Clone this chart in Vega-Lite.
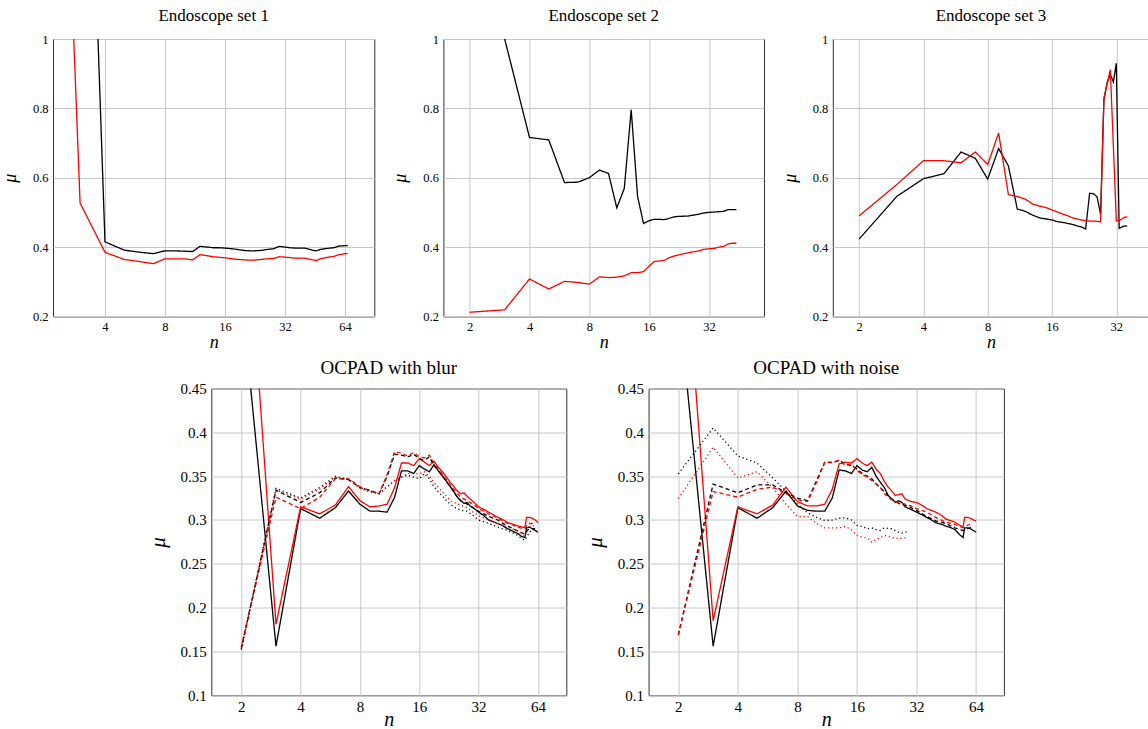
{
"$schema": "https://vega.github.io/schema/vega-lite/v6.json",
"padding": {"left": 0, "top": 6, "right": 0, "bottom": 0},
"config": {
 "font": "Liberation Serif",
 "view": {"stroke": "#333333", "strokeWidth": 1},
 "axis": {"grid": true, "gridColor": "#c8c8c8", "gridWidth": 1, "domain": false, "ticks": false, "labelColor": "#000000", "titleColor": "#000000", "labelFont": "Liberation Serif", "titleFont": "Liberation Serif", "titleFontStyle": "italic", "titleFontWeight": "normal", "labelPadding": 4},
 "axisY": {"labelPadding": 5},
 "title": {"font": "Liberation Serif", "fontWeight": "normal", "color": "#000000", "anchor": "middle", "baseline": "alphabetic"},
 "line": {"strokeWidth": 1.3, "clip": true}
},
"datasets": {
 "set1": [
  {"n":3,"mu":2.5,"method":"M1","setting":"S1"},{"n":4,"mu":0.415,"method":"M1","setting":"S1"},{"n":5,"mu":0.391,"method":"M1","setting":"S1"},{"n":6,"mu":0.385,"method":"M1","setting":"S1"},{"n":7,"mu":0.381,"method":"M1","setting":"S1"},{"n":8,"mu":0.389,"method":"M1","setting":"S1"},{"n":9,"mu":0.389,"method":"M1","setting":"S1"},{"n":10,"mu":0.388,"method":"M1","setting":"S1"},{"n":11,"mu":0.387,"method":"M1","setting":"S1"},{"n":12,"mu":0.402,"method":"M1","setting":"S1"},{"n":13,"mu":0.4,"method":"M1","setting":"S1"},{"n":14,"mu":0.398,"method":"M1","setting":"S1"},{"n":15,"mu":0.398,"method":"M1","setting":"S1"},{"n":16,"mu":0.397,"method":"M1","setting":"S1"},{"n":18,"mu":0.394,"method":"M1","setting":"S1"},{"n":20,"mu":0.39,"method":"M1","setting":"S1"},{"n":22,"mu":0.389,"method":"M1","setting":"S1"},{"n":24,"mu":0.39,"method":"M1","setting":"S1"},{"n":26,"mu":0.393,"method":"M1","setting":"S1"},{"n":28,"mu":0.395,"method":"M1","setting":"S1"},{"n":30,"mu":0.402,"method":"M1","setting":"S1"},{"n":32,"mu":0.4,"method":"M1","setting":"S1"},{"n":34,"mu":0.398,"method":"M1","setting":"S1"},{"n":36,"mu":0.397,"method":"M1","setting":"S1"},{"n":40,"mu":0.397,"method":"M1","setting":"S1"},{"n":44,"mu":0.391,"method":"M1","setting":"S1"},{"n":46,"mu":0.389,"method":"M1","setting":"S1"},{"n":48,"mu":0.393,"method":"M1","setting":"S1"},{"n":52,"mu":0.396,"method":"M1","setting":"S1"},{"n":56,"mu":0.398,"method":"M1","setting":"S1"},{"n":60,"mu":0.403,"method":"M1","setting":"S1"},{"n":64,"mu":0.404,"method":"M1","setting":"S1"},{"n":66,"mu":0.404,"method":"M1","setting":"S1"},
  {"n":2,"mu":3.15,"method":"M2","setting":"S1"},{"n":3,"mu":0.527,"method":"M2","setting":"S1"},{"n":4,"mu":0.385,"method":"M2","setting":"S1"},{"n":5,"mu":0.364,"method":"M2","setting":"S1"},{"n":6,"mu":0.358,"method":"M2","setting":"S1"},{"n":7,"mu":0.352,"method":"M2","setting":"S1"},{"n":8,"mu":0.366,"method":"M2","setting":"S1"},{"n":9,"mu":0.366,"method":"M2","setting":"S1"},{"n":10,"mu":0.366,"method":"M2","setting":"S1"},{"n":11,"mu":0.363,"method":"M2","setting":"S1"},{"n":12,"mu":0.378,"method":"M2","setting":"S1"},{"n":13,"mu":0.375,"method":"M2","setting":"S1"},{"n":14,"mu":0.372,"method":"M2","setting":"S1"},{"n":16,"mu":0.369,"method":"M2","setting":"S1"},{"n":18,"mu":0.365,"method":"M2","setting":"S1"},{"n":20,"mu":0.363,"method":"M2","setting":"S1"},{"n":22,"mu":0.362,"method":"M2","setting":"S1"},{"n":24,"mu":0.364,"method":"M2","setting":"S1"},{"n":26,"mu":0.366,"method":"M2","setting":"S1"},{"n":28,"mu":0.367,"method":"M2","setting":"S1"},{"n":30,"mu":0.372,"method":"M2","setting":"S1"},{"n":32,"mu":0.371,"method":"M2","setting":"S1"},{"n":36,"mu":0.368,"method":"M2","setting":"S1"},{"n":40,"mu":0.368,"method":"M2","setting":"S1"},{"n":44,"mu":0.363,"method":"M2","setting":"S1"},{"n":46,"mu":0.361,"method":"M2","setting":"S1"},{"n":48,"mu":0.366,"method":"M2","setting":"S1"},{"n":52,"mu":0.37,"method":"M2","setting":"S1"},{"n":56,"mu":0.373,"method":"M2","setting":"S1"},{"n":60,"mu":0.378,"method":"M2","setting":"S1"},{"n":64,"mu":0.381,"method":"M2","setting":"S1"},{"n":66,"mu":0.381,"method":"M2","setting":"S1"}
 ],
 "set2": [
  {"n":2,"mu":1.3,"method":"M1","setting":"S1"},{"n":3,"mu":1.0,"method":"M1","setting":"S1"},{"n":4,"mu":0.716,"method":"M1","setting":"S1"},{"n":5,"mu":0.709,"method":"M1","setting":"S1"},{"n":6,"mu":0.586,"method":"M1","setting":"S1"},{"n":7,"mu":0.587,"method":"M1","setting":"S1"},{"n":8,"mu":0.6,"method":"M1","setting":"S1"},{"n":9,"mu":0.622,"method":"M1","setting":"S1"},{"n":10,"mu":0.612,"method":"M1","setting":"S1"},{"n":11,"mu":0.513,"method":"M1","setting":"S1"},{"n":12,"mu":0.569,"method":"M1","setting":"S1"},{"n":13,"mu":0.796,"method":"M1","setting":"S1"},{"n":14,"mu":0.546,"method":"M1","setting":"S1"},{"n":15,"mu":0.468,"method":"M1","setting":"S1"},{"n":16,"mu":0.476,"method":"M1","setting":"S1"},{"n":17,"mu":0.48,"method":"M1","setting":"S1"},{"n":18,"mu":0.48,"method":"M1","setting":"S1"},{"n":19,"mu":0.479,"method":"M1","setting":"S1"},{"n":20,"mu":0.482,"method":"M1","setting":"S1"},{"n":21,"mu":0.486,"method":"M1","setting":"S1"},{"n":22,"mu":0.488,"method":"M1","setting":"S1"},{"n":24,"mu":0.489,"method":"M1","setting":"S1"},{"n":25,"mu":0.489,"method":"M1","setting":"S1"},{"n":26,"mu":0.491,"method":"M1","setting":"S1"},{"n":28,"mu":0.494,"method":"M1","setting":"S1"},{"n":30,"mu":0.498,"method":"M1","setting":"S1"},{"n":32,"mu":0.5,"method":"M1","setting":"S1"},{"n":34,"mu":0.501,"method":"M1","setting":"S1"},{"n":36,"mu":0.502,"method":"M1","setting":"S1"},{"n":38,"mu":0.503,"method":"M1","setting":"S1"},{"n":40,"mu":0.508,"method":"M1","setting":"S1"},{"n":42,"mu":0.508,"method":"M1","setting":"S1"},{"n":44,"mu":0.508,"method":"M1","setting":"S1"},
  {"n":2,"mu":0.212,"method":"M2","setting":"S1"},{"n":3,"mu":0.219,"method":"M2","setting":"S1"},{"n":4,"mu":0.308,"method":"M2","setting":"S1"},{"n":5,"mu":0.279,"method":"M2","setting":"S1"},{"n":6,"mu":0.301,"method":"M2","setting":"S1"},{"n":7,"mu":0.298,"method":"M2","setting":"S1"},{"n":8,"mu":0.293,"method":"M2","setting":"S1"},{"n":9,"mu":0.314,"method":"M2","setting":"S1"},{"n":10,"mu":0.312,"method":"M2","setting":"S1"},{"n":11,"mu":0.313,"method":"M2","setting":"S1"},{"n":12,"mu":0.317,"method":"M2","setting":"S1"},{"n":13,"mu":0.326,"method":"M2","setting":"S1"},{"n":14,"mu":0.326,"method":"M2","setting":"S1"},{"n":15,"mu":0.329,"method":"M2","setting":"S1"},{"n":16,"mu":0.345,"method":"M2","setting":"S1"},{"n":17,"mu":0.358,"method":"M2","setting":"S1"},{"n":18,"mu":0.36,"method":"M2","setting":"S1"},{"n":19,"mu":0.361,"method":"M2","setting":"S1"},{"n":20,"mu":0.368,"method":"M2","setting":"S1"},{"n":21,"mu":0.373,"method":"M2","setting":"S1"},{"n":22,"mu":0.376,"method":"M2","setting":"S1"},{"n":24,"mu":0.381,"method":"M2","setting":"S1"},{"n":26,"mu":0.385,"method":"M2","setting":"S1"},{"n":28,"mu":0.388,"method":"M2","setting":"S1"},{"n":30,"mu":0.393,"method":"M2","setting":"S1"},{"n":32,"mu":0.395,"method":"M2","setting":"S1"},{"n":34,"mu":0.396,"method":"M2","setting":"S1"},{"n":36,"mu":0.4,"method":"M2","setting":"S1"},{"n":38,"mu":0.402,"method":"M2","setting":"S1"},{"n":40,"mu":0.409,"method":"M2","setting":"S1"},{"n":42,"mu":0.411,"method":"M2","setting":"S1"},{"n":44,"mu":0.411,"method":"M2","setting":"S1"}
 ],
 "set3": [
  {"n":2,"mu":0.423,"method":"M1","setting":"S1"},{"n":3,"mu":0.546,"method":"M1","setting":"S1"},{"n":4,"mu":0.597,"method":"M1","setting":"S1"},{"n":5,"mu":0.612,"method":"M1","setting":"S1"},{"n":6,"mu":0.674,"method":"M1","setting":"S1"},{"n":7,"mu":0.656,"method":"M1","setting":"S1"},{"n":8,"mu":0.596,"method":"M1","setting":"S1"},{"n":9,"mu":0.684,"method":"M1","setting":"S1"},{"n":10,"mu":0.634,"method":"M1","setting":"S1"},{"n":11,"mu":0.51,"method":"M1","setting":"S1"},{"n":12,"mu":0.503,"method":"M1","setting":"S1"},{"n":13,"mu":0.492,"method":"M1","setting":"S1"},{"n":14,"mu":0.484,"method":"M1","setting":"S1"},{"n":15,"mu":0.481,"method":"M1","setting":"S1"},{"n":16,"mu":0.478,"method":"M1","setting":"S1"},{"n":17,"mu":0.473,"method":"M1","setting":"S1"},{"n":18,"mu":0.471,"method":"M1","setting":"S1"},{"n":19,"mu":0.468,"method":"M1","setting":"S1"},{"n":20,"mu":0.465,"method":"M1","setting":"S1"},{"n":21,"mu":0.461,"method":"M1","setting":"S1"},{"n":22,"mu":0.458,"method":"M1","setting":"S1"},{"n":23,"mu":0.452,"method":"M1","setting":"S1"},{"n":24,"mu":0.555,"method":"M1","setting":"S1"},{"n":25,"mu":0.554,"method":"M1","setting":"S1"},{"n":26,"mu":0.545,"method":"M1","setting":"S1"},{"n":27,"mu":0.495,"method":"M1","setting":"S1"},{"n":28,"mu":0.825,"method":"M1","setting":"S1"},{"n":29,"mu":0.875,"method":"M1","setting":"S1"},{"n":30,"mu":0.898,"method":"M1","setting":"S1"},{"n":31,"mu":0.876,"method":"M1","setting":"S1"},{"n":32,"mu":0.93,"method":"M1","setting":"S1"},{"n":33,"mu":0.454,"method":"M1","setting":"S1"},{"n":34,"mu":0.458,"method":"M1","setting":"S1"},{"n":35,"mu":0.461,"method":"M1","setting":"S1"},{"n":36,"mu":0.46,"method":"M1","setting":"S1"},
  {"n":2,"mu":0.49,"method":"M2","setting":"S1"},{"n":3,"mu":0.58,"method":"M2","setting":"S1"},{"n":4,"mu":0.649,"method":"M2","setting":"S1"},{"n":5,"mu":0.649,"method":"M2","setting":"S1"},{"n":6,"mu":0.643,"method":"M2","setting":"S1"},{"n":7,"mu":0.674,"method":"M2","setting":"S1"},{"n":8,"mu":0.638,"method":"M2","setting":"S1"},{"n":9,"mu":0.729,"method":"M2","setting":"S1"},{"n":10,"mu":0.551,"method":"M2","setting":"S1"},{"n":11,"mu":0.546,"method":"M2","setting":"S1"},{"n":12,"mu":0.538,"method":"M2","setting":"S1"},{"n":13,"mu":0.524,"method":"M2","setting":"S1"},{"n":14,"mu":0.518,"method":"M2","setting":"S1"},{"n":15,"mu":0.514,"method":"M2","setting":"S1"},{"n":16,"mu":0.507,"method":"M2","setting":"S1"},{"n":17,"mu":0.501,"method":"M2","setting":"S1"},{"n":18,"mu":0.495,"method":"M2","setting":"S1"},{"n":19,"mu":0.49,"method":"M2","setting":"S1"},{"n":20,"mu":0.484,"method":"M2","setting":"S1"},{"n":21,"mu":0.481,"method":"M2","setting":"S1"},{"n":22,"mu":0.478,"method":"M2","setting":"S1"},{"n":23,"mu":0.476,"method":"M2","setting":"S1"},{"n":24,"mu":0.475,"method":"M2","setting":"S1"},{"n":25,"mu":0.475,"method":"M2","setting":"S1"},{"n":26,"mu":0.474,"method":"M2","setting":"S1"},{"n":27,"mu":0.473,"method":"M2","setting":"S1"},{"n":28,"mu":0.83,"method":"M2","setting":"S1"},{"n":29,"mu":0.87,"method":"M2","setting":"S1"},{"n":30,"mu":0.912,"method":"M2","setting":"S1"},{"n":32,"mu":0.476,"method":"M2","setting":"S1"},{"n":33,"mu":0.477,"method":"M2","setting":"S1"},{"n":34,"mu":0.481,"method":"M2","setting":"S1"},{"n":35,"mu":0.486,"method":"M2","setting":"S1"},{"n":36,"mu":0.487,"method":"M2","setting":"S1"}
 ],
 "blur": [
  {"n":2,"mu":0.56,"method":"M1","setting":"S1"},{"n":3,"mu":0.156,"method":"M1","setting":"S1"},{"n":4,"mu":0.313,"method":"M1","setting":"S1"},{"n":5,"mu":0.302,"method":"M1","setting":"S1"},{"n":6,"mu":0.314,"method":"M1","setting":"S1"},{"n":7,"mu":0.333,"method":"M1","setting":"S1"},{"n":8,"mu":0.318,"method":"M1","setting":"S1"},{"n":9,"mu":0.31,"method":"M1","setting":"S1"},{"n":10,"mu":0.31,"method":"M1","setting":"S1"},{"n":11,"mu":0.309,"method":"M1","setting":"S1"},{"n":12,"mu":0.326,"method":"M1","setting":"S1"},{"n":13,"mu":0.356,"method":"M1","setting":"S1"},{"n":14,"mu":0.356,"method":"M1","setting":"S1"},{"n":15,"mu":0.353,"method":"M1","setting":"S1"},{"n":16,"mu":0.362,"method":"M1","setting":"S1"},{"n":17,"mu":0.358,"method":"M1","setting":"S1"},{"n":18,"mu":0.355,"method":"M1","setting":"S1"},{"n":19,"mu":0.363,"method":"M1","setting":"S1"},{"n":20,"mu":0.356,"method":"M1","setting":"S1"},{"n":21,"mu":0.35,"method":"M1","setting":"S1"},{"n":22,"mu":0.344,"method":"M1","setting":"S1"},{"n":23,"mu":0.338,"method":"M1","setting":"S1"},{"n":24,"mu":0.332,"method":"M1","setting":"S1"},{"n":25,"mu":0.326,"method":"M1","setting":"S1"},{"n":26,"mu":0.322,"method":"M1","setting":"S1"},{"n":27,"mu":0.319,"method":"M1","setting":"S1"},{"n":28,"mu":0.32,"method":"M1","setting":"S1"},{"n":29,"mu":0.316,"method":"M1","setting":"S1"},{"n":30,"mu":0.314,"method":"M1","setting":"S1"},{"n":32,"mu":0.309,"method":"M1","setting":"S1"},{"n":34,"mu":0.305,"method":"M1","setting":"S1"},{"n":36,"mu":0.3,"method":"M1","setting":"S1"},{"n":38,"mu":0.298,"method":"M1","setting":"S1"},{"n":40,"mu":0.296,"method":"M1","setting":"S1"},{"n":42,"mu":0.294,"method":"M1","setting":"S1"},{"n":45,"mu":0.29,"method":"M1","setting":"S1"},{"n":48,"mu":0.287,"method":"M1","setting":"S1"},{"n":51,"mu":0.284,"method":"M1","setting":"S1"},{"n":53,"mu":0.281,"method":"M1","setting":"S1"},{"n":55,"mu":0.28,"method":"M1","setting":"S1"},{"n":56,"mu":0.291,"method":"M1","setting":"S1"},{"n":58,"mu":0.292,"method":"M1","setting":"S1"},{"n":60,"mu":0.29,"method":"M1","setting":"S1"},{"n":62,"mu":0.288,"method":"M1","setting":"S1"},{"n":64,"mu":0.286,"method":"M1","setting":"S1"},
  {"n":2,"mu":0.74,"method":"M2","setting":"S1"},{"n":3,"mu":0.181,"method":"M2","setting":"S1"},{"n":4,"mu":0.315,"method":"M2","setting":"S1"},{"n":5,"mu":0.307,"method":"M2","setting":"S1"},{"n":6,"mu":0.317,"method":"M2","setting":"S1"},{"n":7,"mu":0.338,"method":"M2","setting":"S1"},{"n":8,"mu":0.322,"method":"M2","setting":"S1"},{"n":9,"mu":0.315,"method":"M2","setting":"S1"},{"n":10,"mu":0.316,"method":"M2","setting":"S1"},{"n":11,"mu":0.318,"method":"M2","setting":"S1"},{"n":12,"mu":0.337,"method":"M2","setting":"S1"},{"n":13,"mu":0.365,"method":"M2","setting":"S1"},{"n":14,"mu":0.365,"method":"M2","setting":"S1"},{"n":15,"mu":0.362,"method":"M2","setting":"S1"},{"n":16,"mu":0.37,"method":"M2","setting":"S1"},{"n":17,"mu":0.366,"method":"M2","setting":"S1"},{"n":18,"mu":0.362,"method":"M2","setting":"S1"},{"n":19,"mu":0.367,"method":"M2","setting":"S1"},{"n":20,"mu":0.36,"method":"M2","setting":"S1"},{"n":21,"mu":0.355,"method":"M2","setting":"S1"},{"n":22,"mu":0.349,"method":"M2","setting":"S1"},{"n":23,"mu":0.343,"method":"M2","setting":"S1"},{"n":24,"mu":0.338,"method":"M2","setting":"S1"},{"n":25,"mu":0.333,"method":"M2","setting":"S1"},{"n":26,"mu":0.33,"method":"M2","setting":"S1"},{"n":27,"mu":0.331,"method":"M2","setting":"S1"},{"n":28,"mu":0.327,"method":"M2","setting":"S1"},{"n":29,"mu":0.324,"method":"M2","setting":"S1"},{"n":30,"mu":0.321,"method":"M2","setting":"S1"},{"n":32,"mu":0.315,"method":"M2","setting":"S1"},{"n":34,"mu":0.312,"method":"M2","setting":"S1"},{"n":36,"mu":0.309,"method":"M2","setting":"S1"},{"n":38,"mu":0.306,"method":"M2","setting":"S1"},{"n":40,"mu":0.303,"method":"M2","setting":"S1"},{"n":42,"mu":0.301,"method":"M2","setting":"S1"},{"n":45,"mu":0.297,"method":"M2","setting":"S1"},{"n":48,"mu":0.295,"method":"M2","setting":"S1"},{"n":51,"mu":0.293,"method":"M2","setting":"S1"},{"n":53,"mu":0.292,"method":"M2","setting":"S1"},{"n":55,"mu":0.291,"method":"M2","setting":"S1"},{"n":56,"mu":0.303,"method":"M2","setting":"S1"},{"n":58,"mu":0.303,"method":"M2","setting":"S1"},{"n":60,"mu":0.302,"method":"M2","setting":"S1"},{"n":62,"mu":0.3,"method":"M2","setting":"S1"},{"n":64,"mu":0.297,"method":"M2","setting":"S1"},
  {"n":2,"mu":0.153,"method":"M1","setting":"S2"},{"n":3,"mu":0.334,"method":"M1","setting":"S2"},{"n":4,"mu":0.32,"method":"M1","setting":"S2"},{"n":5,"mu":0.331,"method":"M1","setting":"S2"},{"n":6,"mu":0.348,"method":"M1","setting":"S2"},{"n":7,"mu":0.346,"method":"M1","setting":"S2"},{"n":8,"mu":0.337,"method":"M1","setting":"S2"},{"n":9,"mu":0.334,"method":"M1","setting":"S2"},{"n":10,"mu":0.33,"method":"M1","setting":"S2"},{"n":11,"mu":0.35,"method":"M1","setting":"S2"},{"n":12,"mu":0.375,"method":"M1","setting":"S2"},{"n":13,"mu":0.374,"method":"M1","setting":"S2"},{"n":14,"mu":0.372,"method":"M1","setting":"S2"},{"n":15,"mu":0.375,"method":"M1","setting":"S2"},{"n":16,"mu":0.37,"method":"M1","setting":"S2"},{"n":17,"mu":0.368,"method":"M1","setting":"S2"},{"n":18,"mu":0.372,"method":"M1","setting":"S2"},{"n":19,"mu":0.362,"method":"M1","setting":"S2"},{"n":20,"mu":0.356,"method":"M1","setting":"S2"},{"n":21,"mu":0.35,"method":"M1","setting":"S2"},{"n":22,"mu":0.344,"method":"M1","setting":"S2"},{"n":23,"mu":0.338,"method":"M1","setting":"S2"},{"n":24,"mu":0.332,"method":"M1","setting":"S2"},{"n":25,"mu":0.326,"method":"M1","setting":"S2"},{"n":26,"mu":0.322,"method":"M1","setting":"S2"},{"n":28,"mu":0.318,"method":"M1","setting":"S2"},{"n":30,"mu":0.314,"method":"M1","setting":"S2"},{"n":32,"mu":0.31,"method":"M1","setting":"S2"},{"n":34,"mu":0.307,"method":"M1","setting":"S2"},{"n":36,"mu":0.304,"method":"M1","setting":"S2"},{"n":40,"mu":0.3,"method":"M1","setting":"S2"},{"n":44,"mu":0.294,"method":"M1","setting":"S2"},{"n":48,"mu":0.29,"method":"M1","setting":"S2"},{"n":52,"mu":0.286,"method":"M1","setting":"S2"},{"n":55,"mu":0.284,"method":"M1","setting":"S2"},{"n":57,"mu":0.289,"method":"M1","setting":"S2"},{"n":60,"mu":0.29,"method":"M1","setting":"S2"},{"n":62,"mu":0.29,"method":"M1","setting":"S2"},
  {"n":2,"mu":0.155,"method":"M2","setting":"S2"},{"n":3,"mu":0.326,"method":"M2","setting":"S2"},{"n":4,"mu":0.313,"method":"M2","setting":"S2"},{"n":5,"mu":0.326,"method":"M2","setting":"S2"},{"n":6,"mu":0.347,"method":"M2","setting":"S2"},{"n":7,"mu":0.347,"method":"M2","setting":"S2"},{"n":8,"mu":0.338,"method":"M2","setting":"S2"},{"n":9,"mu":0.333,"method":"M2","setting":"S2"},{"n":10,"mu":0.33,"method":"M2","setting":"S2"},{"n":11,"mu":0.352,"method":"M2","setting":"S2"},{"n":12,"mu":0.378,"method":"M2","setting":"S2"},{"n":13,"mu":0.376,"method":"M2","setting":"S2"},{"n":14,"mu":0.373,"method":"M2","setting":"S2"},{"n":15,"mu":0.377,"method":"M2","setting":"S2"},{"n":16,"mu":0.372,"method":"M2","setting":"S2"},{"n":17,"mu":0.371,"method":"M2","setting":"S2"},{"n":18,"mu":0.374,"method":"M2","setting":"S2"},{"n":19,"mu":0.365,"method":"M2","setting":"S2"},{"n":20,"mu":0.358,"method":"M2","setting":"S2"},{"n":21,"mu":0.352,"method":"M2","setting":"S2"},{"n":22,"mu":0.346,"method":"M2","setting":"S2"},{"n":23,"mu":0.34,"method":"M2","setting":"S2"},{"n":24,"mu":0.335,"method":"M2","setting":"S2"},{"n":25,"mu":0.33,"method":"M2","setting":"S2"},{"n":26,"mu":0.326,"method":"M2","setting":"S2"},{"n":28,"mu":0.322,"method":"M2","setting":"S2"},{"n":30,"mu":0.318,"method":"M2","setting":"S2"},{"n":32,"mu":0.313,"method":"M2","setting":"S2"},{"n":34,"mu":0.31,"method":"M2","setting":"S2"},{"n":36,"mu":0.307,"method":"M2","setting":"S2"},{"n":40,"mu":0.302,"method":"M2","setting":"S2"},{"n":44,"mu":0.297,"method":"M2","setting":"S2"},{"n":48,"mu":0.294,"method":"M2","setting":"S2"},{"n":52,"mu":0.291,"method":"M2","setting":"S2"},{"n":55,"mu":0.29,"method":"M2","setting":"S2"},{"n":57,"mu":0.296,"method":"M2","setting":"S2"},{"n":60,"mu":0.296,"method":"M2","setting":"S2"},{"n":62,"mu":0.294,"method":"M2","setting":"S2"},
  {"n":2,"mu":0.152,"method":"M1","setting":"S3"},{"n":3,"mu":0.336,"method":"M1","setting":"S3"},{"n":4,"mu":0.325,"method":"M1","setting":"S3"},{"n":5,"mu":0.337,"method":"M1","setting":"S3"},{"n":6,"mu":0.35,"method":"M1","setting":"S3"},{"n":7,"mu":0.346,"method":"M1","setting":"S3"},{"n":8,"mu":0.337,"method":"M1","setting":"S3"},{"n":9,"mu":0.333,"method":"M1","setting":"S3"},{"n":10,"mu":0.33,"method":"M1","setting":"S3"},{"n":11,"mu":0.338,"method":"M1","setting":"S3"},{"n":12,"mu":0.345,"method":"M1","setting":"S3"},{"n":13,"mu":0.349,"method":"M1","setting":"S3"},{"n":14,"mu":0.351,"method":"M1","setting":"S3"},{"n":15,"mu":0.349,"method":"M1","setting":"S3"},{"n":16,"mu":0.347,"method":"M1","setting":"S3"},{"n":17,"mu":0.353,"method":"M1","setting":"S3"},{"n":18,"mu":0.347,"method":"M1","setting":"S3"},{"n":19,"mu":0.338,"method":"M1","setting":"S3"},{"n":20,"mu":0.332,"method":"M1","setting":"S3"},{"n":21,"mu":0.327,"method":"M1","setting":"S3"},{"n":22,"mu":0.322,"method":"M1","setting":"S3"},{"n":23,"mu":0.318,"method":"M1","setting":"S3"},{"n":24,"mu":0.315,"method":"M1","setting":"S3"},{"n":26,"mu":0.311,"method":"M1","setting":"S3"},{"n":28,"mu":0.31,"method":"M1","setting":"S3"},{"n":30,"mu":0.305,"method":"M1","setting":"S3"},{"n":32,"mu":0.3,"method":"M1","setting":"S3"},{"n":36,"mu":0.296,"method":"M1","setting":"S3"},{"n":40,"mu":0.292,"method":"M1","setting":"S3"},{"n":45,"mu":0.288,"method":"M1","setting":"S3"},{"n":50,"mu":0.283,"method":"M1","setting":"S3"},{"n":53,"mu":0.279,"method":"M1","setting":"S3"},{"n":55,"mu":0.277,"method":"M1","setting":"S3"},{"n":57,"mu":0.283,"method":"M1","setting":"S3"},{"n":59,"mu":0.288,"method":"M1","setting":"S3"},
  {"n":2,"mu":0.155,"method":"M2","setting":"S3"},{"n":3,"mu":0.334,"method":"M2","setting":"S3"},{"n":4,"mu":0.324,"method":"M2","setting":"S3"},{"n":5,"mu":0.335,"method":"M2","setting":"S3"},{"n":6,"mu":0.349,"method":"M2","setting":"S3"},{"n":7,"mu":0.347,"method":"M2","setting":"S3"},{"n":8,"mu":0.336,"method":"M2","setting":"S3"},{"n":9,"mu":0.332,"method":"M2","setting":"S3"},{"n":10,"mu":0.33,"method":"M2","setting":"S3"},{"n":11,"mu":0.338,"method":"M2","setting":"S3"},{"n":12,"mu":0.345,"method":"M2","setting":"S3"},{"n":13,"mu":0.349,"method":"M2","setting":"S3"},{"n":14,"mu":0.353,"method":"M2","setting":"S3"},{"n":15,"mu":0.353,"method":"M2","setting":"S3"},{"n":16,"mu":0.353,"method":"M2","setting":"S3"},{"n":17,"mu":0.355,"method":"M2","setting":"S3"},{"n":18,"mu":0.35,"method":"M2","setting":"S3"},{"n":19,"mu":0.343,"method":"M2","setting":"S3"},{"n":20,"mu":0.337,"method":"M2","setting":"S3"},{"n":21,"mu":0.332,"method":"M2","setting":"S3"},{"n":22,"mu":0.327,"method":"M2","setting":"S3"},{"n":23,"mu":0.322,"method":"M2","setting":"S3"},{"n":24,"mu":0.32,"method":"M2","setting":"S3"},{"n":26,"mu":0.317,"method":"M2","setting":"S3"},{"n":28,"mu":0.314,"method":"M2","setting":"S3"},{"n":30,"mu":0.309,"method":"M2","setting":"S3"},{"n":32,"mu":0.305,"method":"M2","setting":"S3"},{"n":36,"mu":0.3,"method":"M2","setting":"S3"},{"n":40,"mu":0.296,"method":"M2","setting":"S3"},{"n":45,"mu":0.292,"method":"M2","setting":"S3"},{"n":50,"mu":0.288,"method":"M2","setting":"S3"},{"n":53,"mu":0.284,"method":"M2","setting":"S3"},{"n":55,"mu":0.282,"method":"M2","setting":"S3"},{"n":57,"mu":0.29,"method":"M2","setting":"S3"},{"n":60,"mu":0.294,"method":"M2","setting":"S3"},{"n":62,"mu":0.292,"method":"M2","setting":"S3"}
 ],
 "noise": [
  {"n":2,"mu":0.553,"method":"M1","setting":"S1"},{"n":3,"mu":0.156,"method":"M1","setting":"S1"},{"n":4,"mu":0.314,"method":"M1","setting":"S1"},{"n":5,"mu":0.302,"method":"M1","setting":"S1"},{"n":6,"mu":0.314,"method":"M1","setting":"S1"},{"n":7,"mu":0.333,"method":"M1","setting":"S1"},{"n":8,"mu":0.316,"method":"M1","setting":"S1"},{"n":9,"mu":0.311,"method":"M1","setting":"S1"},{"n":10,"mu":0.31,"method":"M1","setting":"S1"},{"n":11,"mu":0.31,"method":"M1","setting":"S1"},{"n":12,"mu":0.325,"method":"M1","setting":"S1"},{"n":13,"mu":0.357,"method":"M1","setting":"S1"},{"n":14,"mu":0.356,"method":"M1","setting":"S1"},{"n":15,"mu":0.353,"method":"M1","setting":"S1"},{"n":16,"mu":0.362,"method":"M1","setting":"S1"},{"n":17,"mu":0.357,"method":"M1","setting":"S1"},{"n":18,"mu":0.355,"method":"M1","setting":"S1"},{"n":19,"mu":0.36,"method":"M1","setting":"S1"},{"n":20,"mu":0.35,"method":"M1","setting":"S1"},{"n":21,"mu":0.343,"method":"M1","setting":"S1"},{"n":22,"mu":0.337,"method":"M1","setting":"S1"},{"n":23,"mu":0.328,"method":"M1","setting":"S1"},{"n":24,"mu":0.324,"method":"M1","setting":"S1"},{"n":25,"mu":0.32,"method":"M1","setting":"S1"},{"n":26,"mu":0.322,"method":"M1","setting":"S1"},{"n":27,"mu":0.32,"method":"M1","setting":"S1"},{"n":28,"mu":0.315,"method":"M1","setting":"S1"},{"n":30,"mu":0.312,"method":"M1","setting":"S1"},{"n":32,"mu":0.309,"method":"M1","setting":"S1"},{"n":34,"mu":0.306,"method":"M1","setting":"S1"},{"n":36,"mu":0.303,"method":"M1","setting":"S1"},{"n":38,"mu":0.3,"method":"M1","setting":"S1"},{"n":40,"mu":0.297,"method":"M1","setting":"S1"},{"n":43,"mu":0.295,"method":"M1","setting":"S1"},{"n":45,"mu":0.293,"method":"M1","setting":"S1"},{"n":48,"mu":0.291,"method":"M1","setting":"S1"},{"n":50,"mu":0.289,"method":"M1","setting":"S1"},{"n":53,"mu":0.283,"method":"M1","setting":"S1"},{"n":55,"mu":0.28,"method":"M1","setting":"S1"},{"n":56,"mu":0.291,"method":"M1","setting":"S1"},{"n":58,"mu":0.291,"method":"M1","setting":"S1"},{"n":60,"mu":0.29,"method":"M1","setting":"S1"},{"n":62,"mu":0.288,"method":"M1","setting":"S1"},{"n":64,"mu":0.286,"method":"M1","setting":"S1"},
  {"n":2,"mu":0.716,"method":"M2","setting":"S1"},{"n":3,"mu":0.185,"method":"M2","setting":"S1"},{"n":4,"mu":0.315,"method":"M2","setting":"S1"},{"n":5,"mu":0.307,"method":"M2","setting":"S1"},{"n":6,"mu":0.317,"method":"M2","setting":"S1"},{"n":7,"mu":0.3375,"method":"M2","setting":"S1"},{"n":8,"mu":0.321,"method":"M2","setting":"S1"},{"n":9,"mu":0.316,"method":"M2","setting":"S1"},{"n":10,"mu":0.316,"method":"M2","setting":"S1"},{"n":11,"mu":0.318,"method":"M2","setting":"S1"},{"n":12,"mu":0.335,"method":"M2","setting":"S1"},{"n":13,"mu":0.364,"method":"M2","setting":"S1"},{"n":14,"mu":0.366,"method":"M2","setting":"S1"},{"n":15,"mu":0.365,"method":"M2","setting":"S1"},{"n":16,"mu":0.37,"method":"M2","setting":"S1"},{"n":17,"mu":0.365,"method":"M2","setting":"S1"},{"n":18,"mu":0.362,"method":"M2","setting":"S1"},{"n":19,"mu":0.366,"method":"M2","setting":"S1"},{"n":20,"mu":0.358,"method":"M2","setting":"S1"},{"n":21,"mu":0.353,"method":"M2","setting":"S1"},{"n":22,"mu":0.344,"method":"M2","setting":"S1"},{"n":23,"mu":0.3375,"method":"M2","setting":"S1"},{"n":24,"mu":0.333,"method":"M2","setting":"S1"},{"n":25,"mu":0.328,"method":"M2","setting":"S1"},{"n":26,"mu":0.329,"method":"M2","setting":"S1"},{"n":27,"mu":0.33,"method":"M2","setting":"S1"},{"n":28,"mu":0.324,"method":"M2","setting":"S1"},{"n":30,"mu":0.321,"method":"M2","setting":"S1"},{"n":32,"mu":0.32,"method":"M2","setting":"S1"},{"n":34,"mu":0.317,"method":"M2","setting":"S1"},{"n":36,"mu":0.313,"method":"M2","setting":"S1"},{"n":38,"mu":0.311,"method":"M2","setting":"S1"},{"n":40,"mu":0.309,"method":"M2","setting":"S1"},{"n":43,"mu":0.305,"method":"M2","setting":"S1"},{"n":45,"mu":0.301,"method":"M2","setting":"S1"},{"n":48,"mu":0.299,"method":"M2","setting":"S1"},{"n":50,"mu":0.2975,"method":"M2","setting":"S1"},{"n":53,"mu":0.294,"method":"M2","setting":"S1"},{"n":55,"mu":0.292,"method":"M2","setting":"S1"},{"n":56,"mu":0.303,"method":"M2","setting":"S1"},{"n":58,"mu":0.303,"method":"M2","setting":"S1"},{"n":60,"mu":0.302,"method":"M2","setting":"S1"},{"n":62,"mu":0.3,"method":"M2","setting":"S1"},{"n":64,"mu":0.299,"method":"M2","setting":"S1"},
  {"n":2,"mu":0.169,"method":"M1","setting":"S2"},{"n":3,"mu":0.341,"method":"M1","setting":"S2"},{"n":4,"mu":0.331,"method":"M1","setting":"S2"},{"n":5,"mu":0.34,"method":"M1","setting":"S2"},{"n":6,"mu":0.34,"method":"M1","setting":"S2"},{"n":7,"mu":0.331,"method":"M1","setting":"S2"},{"n":8,"mu":0.325,"method":"M1","setting":"S2"},{"n":9,"mu":0.322,"method":"M1","setting":"S2"},{"n":10,"mu":0.345,"method":"M1","setting":"S2"},{"n":11,"mu":0.366,"method":"M1","setting":"S2"},{"n":12,"mu":0.365,"method":"M1","setting":"S2"},{"n":13,"mu":0.368,"method":"M1","setting":"S2"},{"n":14,"mu":0.364,"method":"M1","setting":"S2"},{"n":15,"mu":0.362,"method":"M1","setting":"S2"},{"n":16,"mu":0.358,"method":"M1","setting":"S2"},{"n":17,"mu":0.353,"method":"M1","setting":"S2"},{"n":18,"mu":0.35,"method":"M1","setting":"S2"},{"n":19,"mu":0.347,"method":"M1","setting":"S2"},{"n":20,"mu":0.341,"method":"M1","setting":"S2"},{"n":21,"mu":0.337,"method":"M1","setting":"S2"},{"n":22,"mu":0.332,"method":"M1","setting":"S2"},{"n":23,"mu":0.328,"method":"M1","setting":"S2"},{"n":24,"mu":0.324,"method":"M1","setting":"S2"},{"n":26,"mu":0.319,"method":"M1","setting":"S2"},{"n":28,"mu":0.317,"method":"M1","setting":"S2"},{"n":30,"mu":0.314,"method":"M1","setting":"S2"},{"n":32,"mu":0.311,"method":"M1","setting":"S2"},{"n":36,"mu":0.304,"method":"M1","setting":"S2"},{"n":40,"mu":0.299,"method":"M1","setting":"S2"},{"n":45,"mu":0.296,"method":"M1","setting":"S2"},{"n":50,"mu":0.291,"method":"M1","setting":"S2"},{"n":55,"mu":0.288,"method":"M1","setting":"S2"},{"n":58,"mu":0.29,"method":"M1","setting":"S2"},{"n":61,"mu":0.292,"method":"M1","setting":"S2"},
  {"n":2,"mu":0.169,"method":"M2","setting":"S2"},{"n":3,"mu":0.3325,"method":"M2","setting":"S2"},{"n":4,"mu":0.326,"method":"M2","setting":"S2"},{"n":5,"mu":0.335,"method":"M2","setting":"S2"},{"n":6,"mu":0.3375,"method":"M2","setting":"S2"},{"n":7,"mu":0.33,"method":"M2","setting":"S2"},{"n":8,"mu":0.323,"method":"M2","setting":"S2"},{"n":9,"mu":0.321,"method":"M2","setting":"S2"},{"n":10,"mu":0.343,"method":"M2","setting":"S2"},{"n":11,"mu":0.366,"method":"M2","setting":"S2"},{"n":12,"mu":0.366,"method":"M2","setting":"S2"},{"n":13,"mu":0.368,"method":"M2","setting":"S2"},{"n":14,"mu":0.362,"method":"M2","setting":"S2"},{"n":15,"mu":0.364,"method":"M2","setting":"S2"},{"n":16,"mu":0.3565,"method":"M2","setting":"S2"},{"n":17,"mu":0.352,"method":"M2","setting":"S2"},{"n":18,"mu":0.349,"method":"M2","setting":"S2"},{"n":19,"mu":0.345,"method":"M2","setting":"S2"},{"n":20,"mu":0.341,"method":"M2","setting":"S2"},{"n":21,"mu":0.337,"method":"M2","setting":"S2"},{"n":22,"mu":0.33,"method":"M2","setting":"S2"},{"n":23,"mu":0.326,"method":"M2","setting":"S2"},{"n":24,"mu":0.323,"method":"M2","setting":"S2"},{"n":26,"mu":0.32,"method":"M2","setting":"S2"},{"n":28,"mu":0.318,"method":"M2","setting":"S2"},{"n":30,"mu":0.316,"method":"M2","setting":"S2"},{"n":32,"mu":0.313,"method":"M2","setting":"S2"},{"n":36,"mu":0.309,"method":"M2","setting":"S2"},{"n":40,"mu":0.303,"method":"M2","setting":"S2"},{"n":45,"mu":0.2975,"method":"M2","setting":"S2"},{"n":50,"mu":0.295,"method":"M2","setting":"S2"},{"n":55,"mu":0.291,"method":"M2","setting":"S2"},{"n":58,"mu":0.294,"method":"M2","setting":"S2"},{"n":61,"mu":0.296,"method":"M2","setting":"S2"},
  {"n":2,"mu":0.3527,"method":"M1","setting":"S3"},{"n":3,"mu":0.405,"method":"M1","setting":"S3"},{"n":4,"mu":0.373,"method":"M1","setting":"S3"},{"n":5,"mu":0.365,"method":"M1","setting":"S3"},{"n":6,"mu":0.348,"method":"M1","setting":"S3"},{"n":7,"mu":0.333,"method":"M1","setting":"S3"},{"n":8,"mu":0.318,"method":"M1","setting":"S3"},{"n":9,"mu":0.308,"method":"M1","setting":"S3"},{"n":10,"mu":0.303,"method":"M1","setting":"S3"},{"n":11,"mu":0.2994,"method":"M1","setting":"S3"},{"n":12,"mu":0.3,"method":"M1","setting":"S3"},{"n":13,"mu":0.302,"method":"M1","setting":"S3"},{"n":14,"mu":0.3025,"method":"M1","setting":"S3"},{"n":15,"mu":0.3,"method":"M1","setting":"S3"},{"n":16,"mu":0.2937,"method":"M1","setting":"S3"},{"n":17,"mu":0.2926,"method":"M1","setting":"S3"},{"n":18,"mu":0.29,"method":"M1","setting":"S3"},{"n":19,"mu":0.291,"method":"M1","setting":"S3"},{"n":20,"mu":0.289,"method":"M1","setting":"S3"},{"n":21,"mu":0.288,"method":"M1","setting":"S3"},{"n":22,"mu":0.291,"method":"M1","setting":"S3"},{"n":24,"mu":0.29,"method":"M1","setting":"S3"},{"n":26,"mu":0.286,"method":"M1","setting":"S3"},{"n":27,"mu":0.285,"method":"M1","setting":"S3"},{"n":29,"mu":0.287,"method":"M1","setting":"S3"},
  {"n":2,"mu":0.3245,"method":"M2","setting":"S3"},{"n":3,"mu":0.383,"method":"M2","setting":"S3"},{"n":4,"mu":0.348,"method":"M2","setting":"S3"},{"n":5,"mu":0.355,"method":"M2","setting":"S3"},{"n":6,"mu":0.337,"method":"M2","setting":"S3"},{"n":7,"mu":0.318,"method":"M2","setting":"S3"},{"n":8,"mu":0.304,"method":"M2","setting":"S3"},{"n":9,"mu":0.304,"method":"M2","setting":"S3"},{"n":10,"mu":0.296,"method":"M2","setting":"S3"},{"n":11,"mu":0.291,"method":"M2","setting":"S3"},{"n":12,"mu":0.291,"method":"M2","setting":"S3"},{"n":13,"mu":0.291,"method":"M2","setting":"S3"},{"n":14,"mu":0.2926,"method":"M2","setting":"S3"},{"n":15,"mu":0.2888,"method":"M2","setting":"S3"},{"n":16,"mu":0.2823,"method":"M2","setting":"S3"},{"n":17,"mu":0.2804,"method":"M2","setting":"S3"},{"n":18,"mu":0.2797,"method":"M2","setting":"S3"},{"n":19,"mu":0.2747,"method":"M2","setting":"S3"},{"n":20,"mu":0.278,"method":"M2","setting":"S3"},{"n":21,"mu":0.2797,"method":"M2","setting":"S3"},{"n":22,"mu":0.2823,"method":"M2","setting":"S3"},{"n":24,"mu":0.28,"method":"M2","setting":"S3"},{"n":26,"mu":0.2785,"method":"M2","setting":"S3"},{"n":27,"mu":0.2797,"method":"M2","setting":"S3"},{"n":29,"mu":0.2797,"method":"M2","setting":"S3"}
 ]
},
"spacing": 5.5,
"vconcat": [
 {
  "spacing": 68.4,
  "bounds": "flush",
  "hconcat": [
   {
    "width": 321.3, "height": 277.4,
    "title": {"text": "Endoscope set 1", "fontSize": 17, "offset": 8},
    "data": {"name": "set1"},
    "mark": {"type": "line", "clip": true},
    "encoding": {
     "x": {"field": "n", "type": "quantitative", "scale": {"type": "log", "base": 2, "domain": [2.194, 89.8], "nice": false}, "axis": {"values": [4, 8, 16, 32, 64], "format": "d", "title": "n", "labelFontSize": 12.5, "titleFontSize": 18, "titlePadding": 1}},
     "y": {"field": "mu", "type": "quantitative", "scale": {"domain": [0.2, 1], "nice": false, "zero": false}, "axis": {"values": [0.2, 0.4, 0.6, 0.8, 1], "format": "~g", "title": "μ", "labelFontSize": 12.5, "titleFontSize": 18, "titlePadding": 13}},
     "color": {"field": "method", "type": "nominal", "scale": {"domain": ["M1", "M2"], "range": ["#000000", "#ff0000"]}, "legend": null},
     "strokeDash": {"field": "setting", "type": "nominal", "scale": {"domain": ["S1", "S2", "S3"], "range": [[1, 0], [4, 3], [1.2, 2.8]]}, "legend": null}
    }
   },
   {
    "width": 320.6, "height": 277.4,
    "title": {"text": "Endoscope set 2", "fontSize": 17, "offset": 8},
    "data": {"name": "set2"},
    "mark": {"type": "line", "clip": true},
    "encoding": {
     "x": {"field": "n", "type": "quantitative", "scale": {"type": "log", "base": 2, "domain": [1.4744, 60.6], "nice": false}, "axis": {"values": [2, 4, 8, 16, 32], "format": "d", "title": "n", "labelFontSize": 12.5, "titleFontSize": 18, "titlePadding": 1}},
     "y": {"field": "mu", "type": "quantitative", "scale": {"domain": [0.2, 1], "nice": false, "zero": false}, "axis": {"values": [0.2, 0.4, 0.6, 0.8, 1], "format": "~g", "title": "μ", "labelFontSize": 12.5, "titleFontSize": 18, "titlePadding": 13}},
     "color": {"field": "method", "type": "nominal", "scale": {"domain": ["M1", "M2"], "range": ["#000000", "#ff0000"]}, "legend": null},
     "strokeDash": {"field": "setting", "type": "nominal", "scale": {"domain": ["S1", "S2", "S3"], "range": [[1, 0], [4, 3], [1.2, 2.8]]}, "legend": null}
    }
   },
   {
    "width": 316.3, "height": 277.4,
    "title": {"text": "Endoscope set 3", "fontSize": 17, "offset": 8},
    "data": {"name": "set3"},
    "mark": {"type": "line", "clip": true},
    "encoding": {
     "x": {"field": "n", "type": "quantitative", "scale": {"type": "log", "base": 2, "domain": [1.5063, 45.57], "nice": false}, "axis": {"values": [2, 4, 8, 16, 32], "format": "d", "title": "n", "labelFontSize": 12.5, "titleFontSize": 18, "titlePadding": 1}},
     "y": {"field": "mu", "type": "quantitative", "scale": {"domain": [0.2, 1], "nice": false, "zero": false}, "axis": {"values": [0.2, 0.4, 0.6, 0.8, 1], "format": "~g", "title": "μ", "labelFontSize": 12.5, "titleFontSize": 18, "titlePadding": 13}},
     "color": {"field": "method", "type": "nominal", "scale": {"domain": ["M1", "M2"], "range": ["#000000", "#ff0000"]}, "legend": null},
     "strokeDash": {"field": "setting", "type": "nominal", "scale": {"domain": ["S1", "S2", "S3"], "range": [[1, 0], [4, 3], [1.2, 2.8]]}, "legend": null}
    }
   }
  ]
 },
 {
  "spacing": 82.3,
  "bounds": "flush",
  "hconcat": [
   {
    "width": 75.5, "height": 306.8,
    "view": {"stroke": null},
    "data": {"values": [{"n": 1}]},
    "mark": {"type": "point", "opacity": 0},
    "encoding": {}
   },
   {
    "width": 355, "height": 306.8,
    "title": {"text": "OCPAD with blur", "fontSize": 19, "offset": 3.5},
    "data": {"name": "blur"},
    "mark": {"type": "line", "clip": true},
    "encoding": {
     "x": {"field": "n", "type": "quantitative", "scale": {"type": "log", "base": 2, "domain": [1.4087, 89.2], "nice": false}, "axis": {"values": [2, 4, 8, 16, 32, 64], "format": "d", "title": "n", "labelFontSize": 15, "titleFontSize": 20, "titlePadding": -4.5}},
     "y": {"field": "mu", "type": "quantitative", "scale": {"domain": [0.1, 0.45], "nice": false, "zero": false}, "axis": {"values": [0.1, 0.15, 0.2, 0.25, 0.3, 0.35, 0.4, 0.45], "format": "~g", "title": "μ", "labelFontSize": 15, "titleFontSize": 21, "titlePadding": 11.5}},
     "color": {"field": "method", "type": "nominal", "scale": {"domain": ["M1", "M2"], "range": ["#000000", "#ff0000"]}, "legend": null},
     "strokeDash": {"field": "setting", "type": "nominal", "scale": {"domain": ["S1", "S2", "S3"], "range": [[1, 0], [4, 3], [1.2, 2.8]]}, "legend": null}
    }
   },
   {
    "width": 355.3, "height": 306.8,
    "title": {"text": "OCPAD with noise", "fontSize": 19, "offset": 3.5},
    "data": {"name": "noise"},
    "mark": {"type": "line", "clip": true},
    "encoding": {
     "x": {"field": "n", "type": "quantitative", "scale": {"type": "log", "base": 2, "domain": [1.4155, 88.45], "nice": false}, "axis": {"values": [2, 4, 8, 16, 32, 64], "format": "d", "title": "n", "labelFontSize": 15, "titleFontSize": 20, "titlePadding": -4.5}},
     "y": {"field": "mu", "type": "quantitative", "scale": {"domain": [0.1, 0.45], "nice": false, "zero": false}, "axis": {"values": [0.1, 0.15, 0.2, 0.25, 0.3, 0.35, 0.4, 0.45], "format": "~g", "title": "μ", "labelFontSize": 15, "titleFontSize": 21, "titlePadding": 11.5}},
     "color": {"field": "method", "type": "nominal", "scale": {"domain": ["M1", "M2"], "range": ["#000000", "#ff0000"]}, "legend": null},
     "strokeDash": {"field": "setting", "type": "nominal", "scale": {"domain": ["S1", "S2", "S3"], "range": [[1, 0], [4, 3], [1.2, 2.8]]}, "legend": null}
    }
   }
  ]
 }
]
}
